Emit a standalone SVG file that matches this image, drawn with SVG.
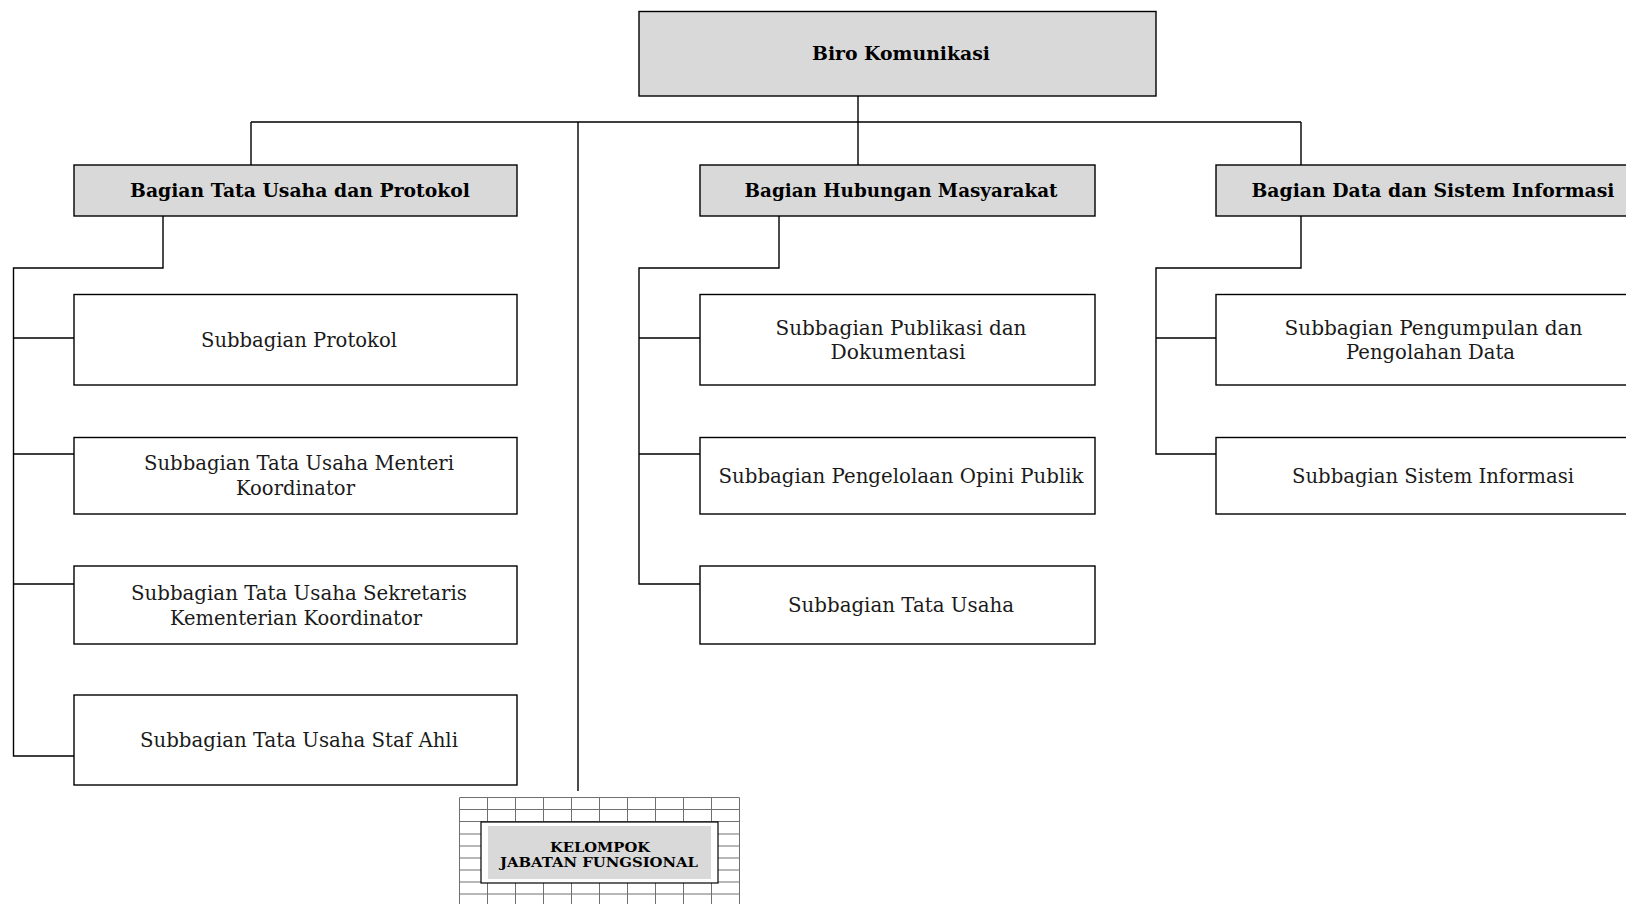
<svg xmlns="http://www.w3.org/2000/svg" width="1626" height="904" viewBox="0 0 1626 904">
<style>
.box{fill:#ffffff;stroke:#000;stroke-width:1.4}
.hdr{fill:#d9d9d9;stroke:#000;stroke-width:1.4}
.ln{fill:none;stroke:#000;stroke-width:1.4}
.grid{fill:none;stroke:#707070;stroke-width:1}
.t{font-family:"DejaVu Serif","Liberation Serif",serif;font-size:19.5px;fill:#1a1a1a;text-anchor:middle}
.b{font-family:"DejaVu Serif","Liberation Serif",serif;font-size:18.5px;font-weight:bold;fill:#000;text-anchor:middle}
.s{font-family:"DejaVu Serif","Liberation Serif",serif;font-size:13.5px;font-weight:bold;fill:#000;text-anchor:middle}
</style>
<rect width="1626" height="904" fill="#fff"/>
<g id="connectors">
<path class="ln" d="M858,96 V165 M251,122 H1301 M251,122 V165 M1301,122 V165 M578,122 V791"/>
<path class="ln" d="M163,216 V268 H13.5 V756 H74 M13.5,338 H74 M13.5,454 H74 M13.5,584 H74"/>
<path class="ln" d="M779,216 V268 H639 V584 H700 M639,338 H700 M639,454 H700"/>
<path class="ln" d="M1301,216 V268 H1156 V454 H1216 M1156,338 H1216"/>
</g>
<g id="biro-komunikasi">
<rect class="hdr" x="639" y="11.5" width="517" height="84.5"/>
<text class="b" x="901" y="60" textLength="178" lengthAdjust="spacingAndGlyphs">Biro Komunikasi</text>
</g>
<g id="bagian-tu-protokol">
<rect class="hdr" x="74" y="165" width="443" height="51"/>
<text class="b" x="300" y="197" textLength="340" lengthAdjust="spacingAndGlyphs">Bagian Tata Usaha dan Protokol</text>
</g>
<g id="bagian-humas">
<rect class="hdr" x="700" y="165" width="395" height="51"/>
<text class="b" x="901" y="197" textLength="313" lengthAdjust="spacingAndGlyphs">Bagian Hubungan Masyarakat</text>
</g>
<g id="bagian-data-si">
<rect class="hdr" x="1216" y="165" width="430" height="51"/>
<text class="b" x="1433" y="197" textLength="363" lengthAdjust="spacingAndGlyphs">Bagian Data dan Sistem Informasi</text>
</g>
<g id="sub-protokol">
<rect class="box" x="74" y="294.5" width="443" height="90.5"/>
<text class="t" x="299" y="346.5" textLength="196" lengthAdjust="spacingAndGlyphs">Subbagian Protokol</text>
</g>
<g id="sub-tu-menteri">
<rect class="box" x="74" y="437.5" width="443" height="76.5"/>
<text class="t" x="299" y="470" textLength="310" lengthAdjust="spacingAndGlyphs">Subbagian Tata Usaha Menteri</text>
<text class="t" x="295.5" y="494.5" textLength="119" lengthAdjust="spacingAndGlyphs">Koordinator</text>
</g>
<g id="sub-tu-sekretaris">
<rect class="box" x="74" y="566" width="443" height="78"/>
<text class="t" x="299" y="599.5" textLength="336" lengthAdjust="spacingAndGlyphs">Subbagian Tata Usaha Sekretaris</text>
<text class="t" x="296" y="624.5" textLength="252" lengthAdjust="spacingAndGlyphs">Kementerian Koordinator</text>
</g>
<g id="sub-tu-staf-ahli">
<rect class="box" x="74" y="695" width="443" height="90"/>
<text class="t" x="299" y="747" textLength="318" lengthAdjust="spacingAndGlyphs">Subbagian Tata Usaha Staf Ahli</text>
</g>
<g id="sub-publikasi">
<rect class="box" x="700" y="294.5" width="395" height="90.5"/>
<text class="t" x="901" y="334.5" textLength="251" lengthAdjust="spacingAndGlyphs">Subbagian Publikasi dan</text>
<text class="t" x="898" y="359" textLength="135" lengthAdjust="spacingAndGlyphs">Dokumentasi</text>
</g>
<g id="sub-opini">
<rect class="box" x="700" y="437.5" width="395" height="76.5"/>
<text class="t" x="901" y="482.5" textLength="365" lengthAdjust="spacingAndGlyphs">Subbagian Pengelolaan Opini Publik</text>
</g>
<g id="sub-tu-humas">
<rect class="box" x="700" y="566" width="395" height="78"/>
<text class="t" x="901" y="612" textLength="226" lengthAdjust="spacingAndGlyphs">Subbagian Tata Usaha</text>
</g>
<g id="sub-pengumpulan">
<rect class="box" x="1216" y="294.5" width="430" height="90.5"/>
<text class="t" x="1433.5" y="334.5" textLength="298" lengthAdjust="spacingAndGlyphs">Subbagian Pengumpulan dan</text>
<text class="t" x="1430.5" y="359" textLength="169" lengthAdjust="spacingAndGlyphs">Pengolahan Data</text>
</g>
<g id="sub-si">
<rect class="box" x="1216" y="437.5" width="430" height="76.5"/>
<text class="t" x="1433" y="482.5" textLength="282" lengthAdjust="spacingAndGlyphs">Subbagian Sistem Informasi</text>
</g>
<g id="kelompok-fungsional">
<path class="grid" d="M459.5,797.5 H739.5 M459.5,809.5 H739.5 M459.5,821.5 H739.5 M459.5,834 H739.5 M459.5,846 H739.5 M459.5,858 H739.5 M459.5,870 H739.5 M459.5,882 H739.5 M459.5,894 H739.5 M459.5,797.5 V904 M487.5,797.5 V904 M515.5,797.5 V904 M543.5,797.5 V904 M571.5,797.5 V904 M599.5,797.5 V904 M627.5,797.5 V904 M655.5,797.5 V904 M683.5,797.5 V904 M711.5,797.5 V904 M739.5,797.5 V904"/>
<rect x="481" y="822" width="237" height="61" fill="#fff" stroke="#000" stroke-width="1.2"/>
<rect x="488" y="826" width="223" height="53" fill="#d9d9d9"/>
<text class="s" x="600" y="851.5" textLength="100" lengthAdjust="spacingAndGlyphs">KELOMPOK</text>
<text class="s" x="599" y="866.5" textLength="198" lengthAdjust="spacingAndGlyphs">JABATAN FUNGSIONAL</text>
</g>
</svg>
